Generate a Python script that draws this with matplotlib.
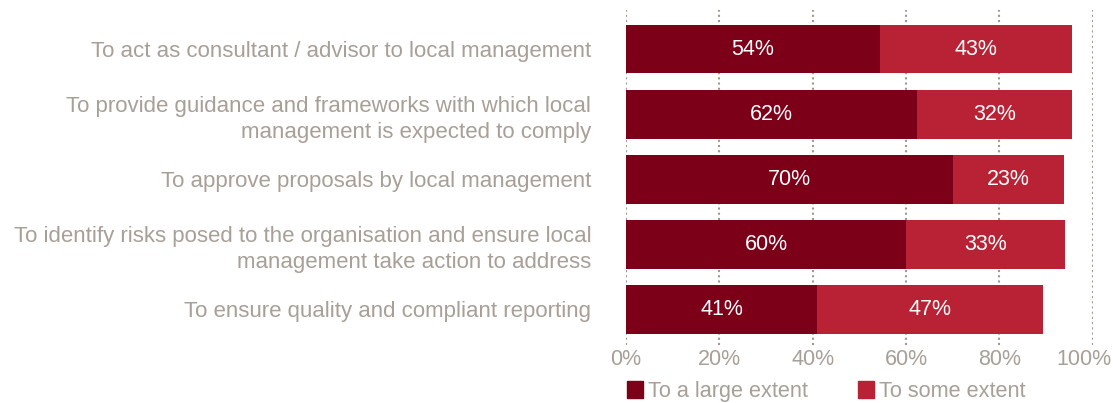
import matplotlib.pyplot as plt
import numpy as np

plt.rcParams['font.family'] = ['Liberation Sans', 'DejaVu Sans']

# ========== Datos ==========
categories = [
    "To act as consultant / advisor to local management",
    "To provide guidance and frameworks with which local\nmanagement is expected to comply",
    "To approve proposals by local management",
    "To identify risks posed to the organisation and ensure local\nmanagement take action to address",
    "To ensure quality and compliant reporting",
]
# longitud de las barras tal como se ven en la figura
large_extent = [54.4, 62.4, 70.1, 60.0, 40.9]
some_extent = [41.2, 33.2, 23.8, 34.1, 48.5]
# porcentajes que aparecen escritos en las barras
large_labels = [54, 62, 70, 60, 41]
some_labels = [43, 32, 23, 33, 47]
series_names = ["To a large extent", "To some extent"]
x_ticks = [0, 20, 40, 60, 80, 100]

dark_red = "#7d0019"
light_red = "#b82234"
grey_text = "#a89f97"

fig = plt.figure(figsize=(11.13, 4.03), dpi=100)
ax = fig.add_axes([0.5625, 0.144, 0.4192, 0.831])

y = np.arange(len(categories))
ax.barh(y, large_extent, height=0.75, color=dark_red, zorder=3)
ax.barh(y, some_extent, left=large_extent, height=0.75, color=light_red, zorder=3)

# etiquetas dentro de las barras
for i in range(len(categories)):
    ax.text(large_extent[i] / 2, y[i], f"{large_labels[i]}%", color="white",
            ha="center", va="center", fontsize=15.5, zorder=4)
    ax.text(large_extent[i] + some_extent[i] / 2, y[i], f"{some_labels[i]}%",
            color="white", ha="center", va="center", fontsize=15.5, zorder=4)

# rejilla punteada
for t in x_ticks:
    ax.axvline(t, color="#a0978f", linestyle=(0, (1, 1.5)), linewidth=1.5, zorder=1)

ax.set_xlim(0, 100)
ax.set_ylim(4.55, -0.6)
ax.set_xticks([])
# etiquetas del eje x a mano (la de 100% se corre un poco a la izquierda)
for t in x_ticks:
    dx = -6.5 if t == 100 else 0
    ax.annotate(f"{t}%", xy=(t, 0), xycoords=("data", "axes fraction"),
                xytext=(dx, -3), textcoords="offset points",
                ha="center", va="top", color=grey_text, fontsize=15.5)
ax.set_yticks(y)
ax.set_yticklabels(categories, color=grey_text, fontsize=16.0, linespacing=1.33)
ax.tick_params(length=0)
ax.tick_params(axis="y", pad=25)
for s in ax.spines.values():
    s.set_visible(False)

# leyenda
handles = [plt.Rectangle((0, 0), 1, 1, color=dark_red),
           plt.Rectangle((0, 0), 1, 1, color=light_red)]
fig.legend(handles, series_names, loc="center left", bbox_to_anchor=(0.5633, 0.0285),
           ncol=2, frameon=False, fontsize=15.6, handlelength=0.75, handleheight=0.8,
           handletextpad=0.23, columnspacing=2.3, borderpad=0, borderaxespad=0,
           labelcolor=grey_text)

fig.savefig("out.png", dpi=100)
